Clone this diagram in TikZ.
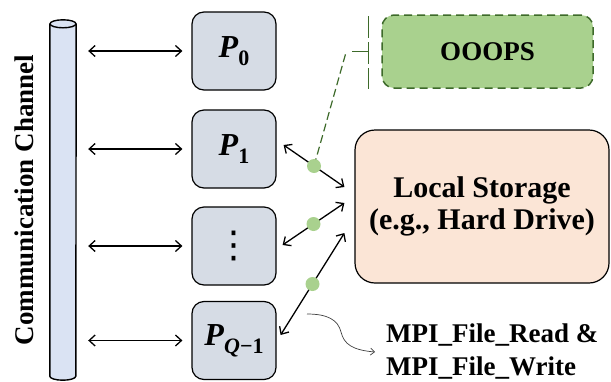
\documentclass[tikz,border=0pt]{standalone}
\usepackage{fontspec}
\setmainfont{Liberation Serif}
\newfontfamily\djv{DejaVu Sans}
\usetikzlibrary{arrows.meta,calc}
\definecolor{pfill}{HTML}{D6DCE5}
\definecolor{cylfill}{HTML}{DAE3F3}
\definecolor{lsfill}{HTML}{FBE5D6}
\definecolor{lgreen}{HTML}{A9D18E}
\definecolor{dgreen}{HTML}{3D6A2A}
\begin{document}
\begin{tikzpicture}[x=1pt,y=-1pt,
  pbox/.style={draw, line width=1.2pt, rounded corners=12pt, fill=pfill,
    minimum width=84pt, minimum height=78pt, inner sep=0pt,
    font=\bfseries\fontsize{32}{32}\selectfont},
  lsbox/.style={draw, line width=1.2pt, rounded corners=20pt, fill=lsfill,
    minimum width=254pt, minimum height=153pt, inner sep=0pt, align=center,
    font=\bfseries\fontsize{30}{32}\selectfont},
  oobox/.style={draw=dgreen, line width=1.5pt, dash pattern=on 8pt off 5pt,
    rounded corners=12pt, fill=lgreen, minimum width=211pt, minimum height=73pt,
    inner sep=0pt, font=\bfseries\fontsize{27}{27}\selectfont},
  dbl/.style={line width=1.3pt, {Straight Barb[length=6pt,width=11pt]}-{Straight Barb[length=6pt,width=11pt]}},
  cyl/.style={line width=1.4pt, fill=cylfill},
  ann/.style={dgreen, line width=1.2pt},
  wavy/.style={draw=black!75, line width=0.7pt, -{Straight Barb[length=4pt,width=7pt]}}
]
\useasboundingbox (0,0) rectangle (611,381);

% communication channel (cylinder)
\node[minimum width=26pt, minimum height=352pt, inner sep=0pt] (chan) at (63,200) {};
\draw[cyl] (chan.north west) -- (chan.south west)
  arc[start angle=180, end angle=360, x radius=13pt, y radius=4pt] -- (chan.north east);
\draw[cyl] (chan.north) ellipse[x radius=13pt, y radius=4pt];
\node[rotate=90, anchor=base, inner sep=0pt, font=\bfseries\fontsize{27}{27}\selectfont] (lbl) at (33,200) {Communication Channel};

% processes
\node[pbox] (p0) at (234,51) {\textit{P}\raisebox{-0.25em}{\fontsize{22}{22}\selectfont 0}};
\node[pbox] (p1) at (234,149) {\textit{P}\raisebox{-0.25em}{\fontsize{22}{22}\selectfont 1}};
\node[pbox] (pd) at (234,246) {\djv\mdseries\fontsize{37}{37}\selectfont ⋮};
\node[pbox] (pq) at (234,340.5) {\textit{P}\raisebox{-0.25em}{\fontsize{22}{22}\selectfont\textit{Q}−1}};

\foreach \p in {p0,p1,pd,pq}
  \draw[dbl] ($(chan.east |- \p)+(12,0)$) -- ($(\p.west)+(-9,0)$);

% storage and OOOPS
\node[lsbox] (ls) at (482,206.5) {Local Storage\\(e.g., Hard Drive)};
\node[oobox] (oo) at (487.5,51.5) {OOOPS};

% arrows to storage
\draw[dbl] ($(p1.east)+(7,-4)$) -- coordinate[pos=0.5] (d1) ($(ls.west)+(-10,-19.5)$);
\draw[dbl] ($(pd.east)+(6,-1)$) -- coordinate[pos=0.5] (d2) ($(ls.west)+(-10,-3.5)$);
\draw[dbl] ($(pq.east)+(4,-5.5)$) -- coordinate[pos=0.5] (d3) ($(ls.west)+(-10,26.5)$);

% OOOPS annotation bracket
\draw[ann, dash pattern=on 22pt off 4pt] ($(oo.north west)+(-13,2)$) -- ($(oo.south west)+(-13,0)$);
\draw[ann] ($(oo.west)+(-29,0)$) -- ($(oo.west)+(-13,0)$);
\draw[ann, dash pattern=on 8pt off 4pt] (d1) -- ($(oo.west)+(-35,0)$);

% green dots
\foreach \d in {d1,d2,d3}
  \fill[lgreen] (\d) circle[radius=7pt];

% MPI label
\node[anchor=west, align=left, inner sep=0pt, font=\bfseries\fontsize{27}{33}\selectfont] (mpi) at (386,352) {MPI\_File\_Read \&\\MPI\_File\_Write};
\coordinate (cs) at (307,314);
\draw[wavy] (cs) .. controls (328,314) and (338,320) .. (341,332)
  .. controls (344,344) and (352,350) .. ($(mpi.west)+(-11,0)$);
\end{tikzpicture}
\end{document}
